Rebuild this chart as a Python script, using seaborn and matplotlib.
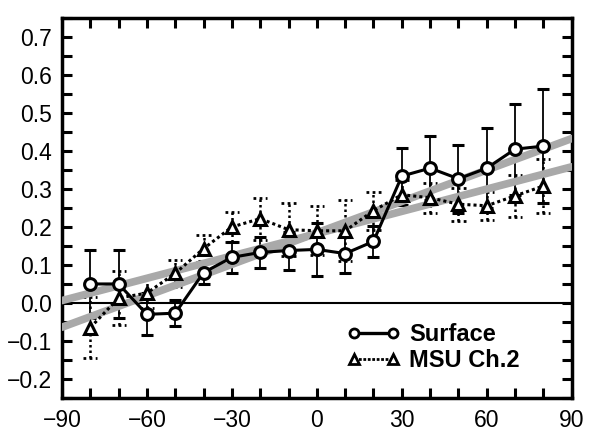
import numpy as np
import pandas as pd
import matplotlib
matplotlib.use("Agg")
import matplotlib.pyplot as plt
import seaborn as sns
from matplotlib.ticker import MultipleLocator
from matplotlib.lines import Line2D

lat = [-80, -70, -60, -50, -40, -30, -20, -10, 0, 10, 20, 30, 40, 50, 60, 70, 80]
surface = [0.05, 0.05, -0.03, -0.027, 0.08, 0.12, 0.133, 0.138, 0.141, 0.13, 0.162,
           0.334, 0.355, 0.327, 0.355, 0.405, 0.413]
surface_err = [0.09, 0.09, 0.055, 0.035, 0.03, 0.04, 0.04, 0.05, 0.07, 0.05, 0.04,
               0.075, 0.085, 0.09, 0.105, 0.12, 0.15]
msu = [-0.065, 0.013, 0.026, 0.078, 0.143, 0.2, 0.222, 0.193, 0.19, 0.19, 0.243,
       0.285, 0.277, 0.26, 0.256, 0.282, 0.308]
msu_err = [0.08, 0.07, 0.04, 0.035, 0.035, 0.04, 0.055, 0.07, 0.065, 0.08, 0.05,
           0.04, 0.04, 0.043, 0.037, 0.055, 0.07]
xticks = [-90, -60, -30, 0, 30, 60, 90]
yticks = [-0.2, -0.1, 0.0, 0.1, 0.2, 0.3, 0.4, 0.5, 0.6, 0.7]
ytick_labels = ["\u22120.2", "\u22120.1", "0.0", "0.1", "0.2", "0.3", "0.4", "0.5", "0.6", "0.7"]

sns.set_style("ticks")
plt.rcParams['font.family'] = ['Liberation Sans', 'DejaVu Sans']
plt.rcParams['text.color'] = 'black'
plt.rcParams['xtick.labelcolor'] = 'black'
plt.rcParams['ytick.labelcolor'] = 'black'

df = pd.DataFrame({"lat": lat, "surface": surface, "surface_err": surface_err,
                   "msu": msu, "msu_err": msu_err})

fig = plt.figure(figsize=(5.9, 4.32), dpi=100)
ax = fig.add_axes([0.105, 0.079, 0.864, 0.879])
ax.set_xlim(-90, 90)
ax.set_ylim(-0.25, 0.75)

ax.axhline(0, color="black", lw=1.5, zorder=1)

# error bars
ax.errorbar(df["lat"], df["surface"], yerr=df["surface_err"], fmt="none",
            ecolor="black", elinewidth=1.3, capsize=4, capthick=2.2, zorder=1.5)
eb = ax.errorbar(df["lat"], df["msu"], yerr=df["msu_err"], fmt="none",
                 ecolor="black", elinewidth=1.8, capsize=0, zorder=1.5)
eb[2][0].set_linestyle((0, (1, 1.2)))
cap_half = 2.5
ax.hlines(df["msu"] + df["msu_err"], df["lat"] - cap_half, df["lat"] + cap_half,
          colors="black", lw=2, linestyles=(0, (1, 1.2)), zorder=1.5)
ax.hlines(df["msu"] - df["msu_err"], df["lat"] - cap_half, df["lat"] + cap_half,
          colors="black", lw=2, linestyles=(0, (1, 1.2)), zorder=1.5)

# series lines
sns.lineplot(data=df, x="lat", y="surface", ax=ax, color="black", lw=2.2,
             marker="o", markersize=8.5, markerfacecolor="white",
             markeredgecolor="black", markeredgewidth=2.2, zorder=4)
sns.lineplot(data=df, x="lat", y="msu", ax=ax, color="black", lw=2.2,
             linestyle=(0, (1, 1)), marker="^", markersize=8.5,
             markerfacecolor="white", markeredgecolor="black",
             markeredgewidth=2.2, zorder=4)

# trend lines
sns.regplot(data=df, x="lat", y="surface", ax=ax, scatter=False, ci=None,
            truncate=False, line_kws=dict(color="#a9a9a9", lw=5.5, zorder=3))
sns.regplot(data=df, x="lat", y="msu", ax=ax, scatter=False, ci=None,
            truncate=False, line_kws=dict(color="#a9a9a9", lw=5.5, zorder=3))

ax.set_xlim(-90, 90)
ax.set_ylim(-0.25, 0.75)
ax.set_xlabel("")
ax.set_ylabel("")
ax.set_xticks(xticks)
ax.set_xticklabels([str(t).replace("-", "\u2212") for t in xticks], fontsize=16.5,
                   color="black")
ax.set_yticks(yticks)
ax.set_yticklabels(ytick_labels, fontsize=16.5, color="black")
ax.xaxis.set_minor_locator(MultipleLocator(10))
ax.yaxis.set_minor_locator(MultipleLocator(0.05))
ax.tick_params(which="both", direction="in", top=True, right=True, width=2.2,
               color="black", labelcolor="black")
ax.tick_params(which="major", length=7)
ax.tick_params(axis="y", which="major", pad=7)
ax.tick_params(axis="x", which="major", pad=8)
ax.tick_params(which="minor", length=7)
for s in ax.spines.values():
    s.set_linewidth(2.5)
    s.set_color("black")

handles = [
    Line2D([], [], color="black", lw=2.4, marker="o", markersize=6.5,
           markerfacecolor="white", markeredgewidth=2),
    Line2D([], [], color="black", lw=2, linestyle=(0, (1, 0.6)), marker="^",
           markersize=6.5, markerfacecolor="white", markeredgewidth=2),
]
leg = ax.legend(handles, ["Surface", "MSU Ch.2"], loc="upper left",
                bbox_to_anchor=(0.535, 0.228), frameon=False, borderpad=0,
                handlelength=2.25, handletextpad=0.4, labelspacing=0.12,
                numpoints=2,
                prop=dict(weight="bold", size=17), labelcolor="black")

fig.savefig("out.png", dpi=100)
